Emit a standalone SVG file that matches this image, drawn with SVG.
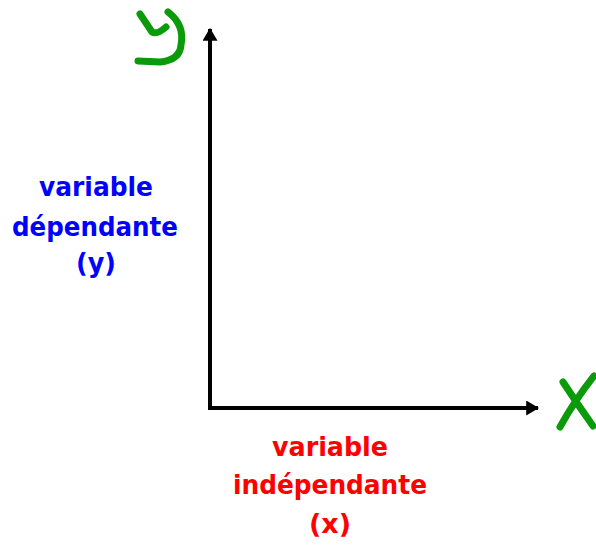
<svg xmlns="http://www.w3.org/2000/svg" width="596" height="554" viewBox="0 0 596 554">
<style>
.axis{stroke:#000;stroke-width:4;fill:none}
.hand{stroke:#0a9a0a;stroke-width:7;fill:none;stroke-linecap:round;stroke-linejoin:round}
.t{font-family:"DejaVu Sans","Liberation Sans",sans-serif;font-weight:bold;font-size:26px;text-anchor:middle}
.blue{fill:#0000ff}
.red{fill:#ff0000}
</style>
<defs>
<marker id="ah" viewBox="0 0 12 14" refX="11" refY="7" markerWidth="13" markerHeight="15" markerUnits="userSpaceOnUse" orient="auto">
<path d="M0,0 L12,7 L0,14 Z" fill="#000"/>
</marker>
</defs>
<g id="connectors">
<line class="axis" x1="210" y1="408" x2="210" y2="29" marker-end="url(#ah)"/>
<line class="axis" x1="208" y1="408" x2="538" y2="408" marker-end="url(#ah)"/>
</g>
<g id="y-label">
<path class="hand" d="M140,14 L152,32 Q157,35 166,27 M168,12 Q185,25 181,45 Q180,60 160,62 L138,61"/>
</g>
<g id="x-label">
<path class="hand" d="M563,382 Q578,405 593,426 M594,376 Q575,400 560,427"/>
</g>
<g id="dep">
<text class="t blue" x="96" y="196" textLength="114" lengthAdjust="spacingAndGlyphs">variable</text>
<text class="t blue" x="95" y="236" textLength="166" lengthAdjust="spacingAndGlyphs">dépendante</text>
<text class="t blue" x="96" y="272" textLength="40" lengthAdjust="spacingAndGlyphs">(y)</text>
</g>
<g id="indep">
<text class="t red" x="330" y="456" textLength="116" lengthAdjust="spacingAndGlyphs">variable</text>
<text class="t red" x="330" y="494" textLength="194" lengthAdjust="spacingAndGlyphs">indépendante</text>
<text class="t red" x="330" y="533" textLength="42" lengthAdjust="spacingAndGlyphs">(x)</text>
</g>
</svg>
